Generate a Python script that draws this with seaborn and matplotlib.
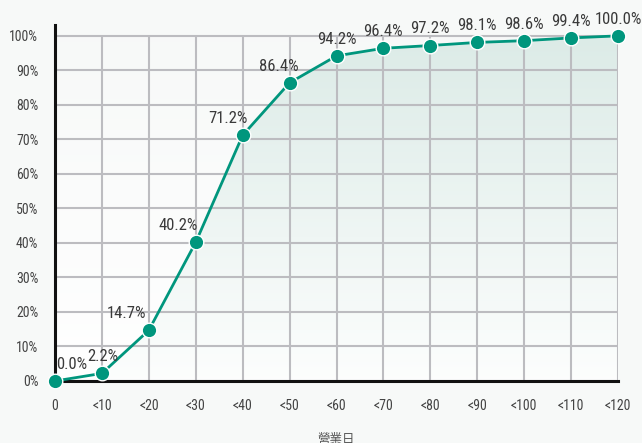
import numpy as np
import pandas as pd
import seaborn as sns
from matplotlib import pyplot as plt
from matplotlib import font_manager
from matplotlib.patches import Polygon

days = ["0", "<10", "<20", "<30", "<40", "<50", "<60", "<70", "<80", "<90", "<100", "<110", "<120"]
cum_pct = [0.0, 2.2, 14.7, 40.2, 71.2, 86.4, 94.2, 96.4, 97.2, 98.1, 98.6, 99.4, 100.0]
y_ticks = [0, 10, 20, 30, 40, 50, 60, 70, 80, 90, 100]

# label horizontal offsets (px) so the text sits clear of the steep part
label_dx = [17, 1, -22, -18, -15, -11, 0, 0, 0, 0, 0, 0, 0]

names = {f.name for f in font_manager.fontManager.ttflist}
narrow = "Roboto Condensed" if "Roboto Condensed" in names else "DejaVu Sans"

sns.set_theme(style="white")
plt.rcParams["font.family"] = [narrow, "Noto Sans CJK TC", "DejaVu Sans"]
plt.rcParams["font.weight"] = "normal"

bg = "#f7f9f8"
teal = "#00967d"
grid_c = "#bcbcc0"

df = pd.DataFrame({"day": days, "pct": cum_pct})
xs = np.arange(len(days))

fig = plt.figure(figsize=(6.42, 4.43), dpi=100, facecolor=bg)
ax = fig.add_axes([55 / 642, 1 - 381 / 443, 563 / 642, 355.5 / 443])
ax.set_facecolor(bg)
ax.set_xlim(0, len(days) - 1)
ax.set_ylim(0, 103)

# background gradient inside the plotting area
grad = np.linspace(0, 1, 256).reshape(-1, 1)
top_bg = np.array([0.969, 0.976, 0.973])
bot_bg = np.array([1.0, 1.0, 1.0])
bg_img = top_bg * (1 - grad[..., None]) + bot_bg * grad[..., None]
ax.imshow(bg_img, extent=[0, len(days) - 1, 0, 100], aspect="auto", zorder=0, origin="upper")

# gradient fill under the curve
top_fill = np.array([0.863, 0.922, 0.906])
bot_fill = np.array([0.99, 0.995, 0.993])
fill_img = top_fill * (1 - grad[..., None]) + bot_fill * grad[..., None]
im = ax.imshow(fill_img, extent=[0, len(days) - 1, 0, 100], aspect="auto", zorder=1, origin="upper")
poly = Polygon(np.column_stack([np.r_[xs, xs[-1], 0], np.r_[cum_pct, 0, 0]]),
               closed=True, facecolor="none", edgecolor="none", transform=ax.transData)
ax.add_patch(poly)
im.set_clip_path(poly)

# grid, limited to 0-100%
ax.hlines(y_ticks, 0, len(days) - 1, color=grid_c, lw=1.5, zorder=2)
ax.vlines(xs, 0, 100, color=grid_c, lw=1.5, zorder=2)

sns.lineplot(data=df, x="day", y="pct", sort=False, color=teal, lw=2,
             marker="o", markersize=10.5, markeredgecolor="white", markeredgewidth=1,
             ax=ax, zorder=5, clip_on=False)

for i, v in enumerate(cum_pct):
    ax.annotate(f"{v:.1f}%", (xs[i], v), xytext=(label_dx[i] * 0.72, 12),
                textcoords="offset points", ha="center", va="center",
                fontsize=12, color="#3a3a3a", zorder=6)

for s in ["top", "right"]:
    ax.spines[s].set_visible(False)
for s in ["left", "bottom"]:
    ax.spines[s].set_color("#111111")
    ax.spines[s].set_linewidth(2.2)
    ax.spines[s].set_zorder(4)

ax.set_xticks(xs)
ax.set_xticklabels(days)
ax.set_yticks(y_ticks)
ax.set_yticklabels([f"{t}%" for t in y_ticks])
ax.tick_params(axis="x", length=0, pad=13, labelsize=10, labelcolor="#444444")
ax.tick_params(axis="y", length=0, pad=12, labelsize=10, labelcolor="#444444")
ax.set_xlabel("營業日", fontsize=9, color="#555555", labelpad=14,
              family=["Noto Sans CJK TC", "DejaVu Sans"])
ax.set_ylabel("")

fig.savefig("out.png", dpi=100, facecolor=bg)
